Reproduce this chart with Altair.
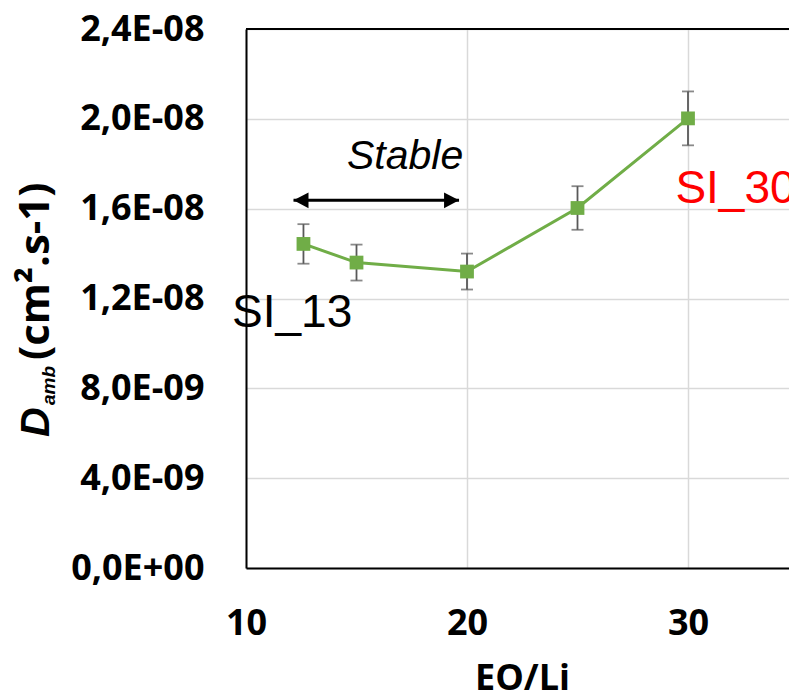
import altair as alt
import pandas as pd

# ---- data ----
eo_li = [12.6, 15, 20, 25, 30]
d_amb = [1.443e-8, 1.360e-8, 1.320e-8, 1.603e-8, 2.002e-8]
d_err = [0.088e-8, 0.080e-8, 0.080e-8, 0.097e-8, 0.120e-8]

y_ticks = [0, 4e-9, 8e-9, 1.2e-8, 1.6e-8, 2.0e-8, 2.4e-8]
y_tick_labels = ["0,0E+00", "4,0E-09", "8,0E-09", "1,2E-08", "1,6E-08", "2,0E-08", "2,4E-08"]
x_ticks = [10, 20, 30]

labels_text = ["SI_13", "SI_30"]
labels_x = [9.37, 29.43]
labels_y = [1.075e-8, 1.625e-8]
labels_color = ["#000000", "#FF0000"]

stable_text = ["Stable"]
stable_x = [14.57]
stable_y = [1.777e-8]

arrow_x = [12.15, 19.64]
arrow_y = [1.637e-8, 1.637e-8]

W, H = 543, 539
X_DOMAIN = [10, 34.57]
Y_DOMAIN = [0, 2.4e-8]

df = pd.DataFrame({
    "x": eo_li,
    "y": d_amb,
    "lo": [v - e for v, e in zip(d_amb, d_err)],
    "hi": [v + e for v, e in zip(d_amb, d_err)],
})

# label expression for y ticks
expr = "''"
for v, lab in reversed(list(zip(y_ticks, y_tick_labels))):
    expr = f"abs(datum.value - {v}) < 1e-10 ? '{lab}' : ({expr})"

xscale = alt.Scale(domain=X_DOMAIN, nice=False, zero=False)
yscale = alt.Scale(domain=Y_DOMAIN, nice=False)

x_axis = alt.Axis(
    values=x_ticks, title="EO/Li", ticks=False, labelPadding=38,
    labelFont="Open Sans", labelFontSize=36, labelFontWeight="bold", labelColor="black",
    titleFont="Open Sans", titleFontSize=36, titleFontWeight="bold", titleColor="black",
    titleX=276, titleY=121, titleBaseline="alphabetic", titleAnchor="middle",
    labelFlush=False,
)
y_axis = alt.Axis(
    values=y_ticks, labelExpr=expr, title=" ", ticks=False, labelPadding=42,
    labelFont="Open Sans", labelFontSize=36, labelFontWeight="bold", labelColor="black",
    labelFlush=False,
)

GREEN = "#70AD47"
GREY = "#595959"


def X(field):
    return alt.X(field, scale=xscale, axis=x_axis)


def Y(field):
    return alt.Y(field, scale=yscale, axis=y_axis)


line = alt.Chart(df).mark_line(color=GREEN, strokeWidth=3).encode(x=X("x:Q"), y=Y("y:Q"))

err_rule = alt.Chart(df).mark_rule(color=GREY, strokeWidth=1.8).encode(
    x=X("x:Q"), y=Y("lo:Q"), y2="hi:Q",
)
cap_lo = alt.Chart(df).mark_tick(color=GREY, orient="horizontal", size=12, thickness=1.8).encode(
    x=X("x:Q"), y=Y("lo:Q"),
)
cap_hi = alt.Chart(df).mark_tick(color=GREY, orient="horizontal", size=12, thickness=1.8).encode(
    x=X("x:Q"), y=Y("hi:Q"),
)
points = alt.Chart(df).mark_point(shape="square", filled=True, size=190, color=GREEN, opacity=1).encode(
    x=X("x:Q"), y=Y("y:Q"),
)

top_border = alt.Chart(pd.DataFrame({"y": [Y_DOMAIN[1]]})).mark_rule(color="black", strokeWidth=2.2).encode(
    y=Y("y:Q"),
    x=alt.value(0),
    x2=alt.value(W),
)

arrow_df = pd.DataFrame({"x": [arrow_x[0]], "x2": [arrow_x[1]], "y": [arrow_y[0]]})
arrow_line = alt.Chart(arrow_df).mark_rule(color="black", strokeWidth=3).encode(
    x=X("x:Q"), x2="x2:Q", y=Y("y:Q"),
)
head_left = alt.Chart(pd.DataFrame({"x": [arrow_x[0]], "y": [arrow_y[0]]})).mark_point(
    shape="M0,0L2,-1.05L2,1.05Z", filled=True, size=225, color="black", opacity=1).encode(
    x=X("x:Q"), y=Y("y:Q"),
)
head_right = alt.Chart(pd.DataFrame({"x": [arrow_x[1]], "y": [arrow_y[1]]})).mark_point(
    shape="M0,0L-2,-1.05L-2,1.05Z", filled=True, size=225, color="black", opacity=1).encode(
    x=X("x:Q"), y=Y("y:Q"),
)

stable = alt.Chart(pd.DataFrame({"x": stable_x, "y": stable_y, "t": stable_text})).mark_text(
    font="Liberation Sans", fontSize=41, fontStyle="italic", align="left", baseline="alphabetic", color="black"
).encode(x=X("x:Q"), y=Y("y:Q"), text="t:N")

lab_df = pd.DataFrame({"x": labels_x, "y": labels_y, "t": labels_text, "c": labels_color})
labels = alt.Chart(lab_df).mark_text(
    font="Liberation Sans", fontSize=46, align="left", baseline="alphabetic"
).encode(
    x=X("x:Q"), y=Y("y:Q"), text="t:N",
    color=alt.Color("c:N", scale=None),
)

one = pd.DataFrame({"a": [1]})
title_D = alt.Chart(one).mark_text(
    text="D", font="Liberation Sans", fontSize=41, fontWeight="bold", fontStyle="italic",
    angle=270, align="left", baseline="alphabetic", color="black"
).encode(x=alt.value(-197), y=alt.value(408))
title_sub = alt.Chart(one).mark_text(
    text="amb", font="Liberation Sans", fontSize=19, fontWeight="bold", fontStyle="italic",
    angle=270, align="left", baseline="alphabetic", color="black"
).encode(x=alt.value(-191), y=alt.value(376))
title_unit = alt.Chart(one).mark_text(
    text="(cm².s-1)", font="Open Sans", fontSize=42, fontWeight="bold",
    angle=270, align="left", baseline="alphabetic", color="black"
).encode(x=alt.value(-197), y=alt.value(331))

chart = alt.layer(
    line, err_rule, cap_lo, cap_hi, points, top_border,
    arrow_line, head_left, head_right, stable, labels,
    title_D, title_sub, title_unit,
).properties(
    width=W, height=H,
    autosize=alt.AutoSizeParams(type="none"),
    padding={"left": 238, "top": 21, "right": 0, "bottom": 124},
    background="white",
).configure_view(
    stroke=None
).configure_axis(
    domainColor="black", domainWidth=2,
    gridColor="#D9D9D9", gridWidth=1.5,
)

chart.save("out.html", embed_options={"renderer": "svg", "actions": False})
